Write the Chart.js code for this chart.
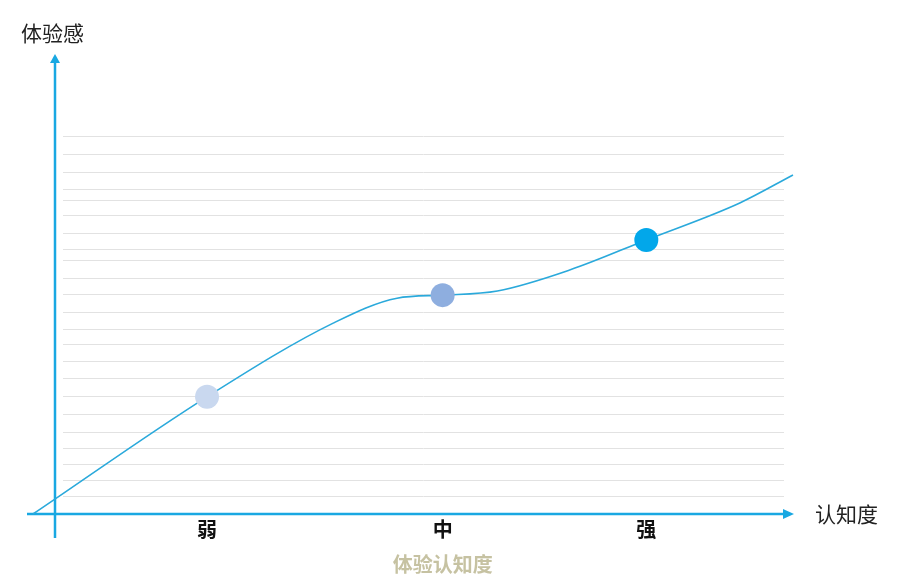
<!DOCTYPE html>
<html>
<head>
<meta charset="utf-8">
<script src="https://cdn.jsdelivr.net/npm/chart.js@4"></script>
<style>
  html, body { margin: 0; padding: 0; background: #fff; }
  #wrap { width: 900px; height: 588px; position: relative; }
</style>
</head>
<body>
<div id="wrap"><canvas id="chart"></canvas></div>
<script>
// --- 数据 ---
const xLabels = ["弱", "中", "强"];
const markX = [22.9, 53.9, 80.7];
const markY = [31.0, 57.9, 72.5];
const markColors = ["#c9d8ef", "#8eaedf", "#02a7ea"];

// 曲线 (从图上读出来的点)
const curveX = [0, 22.9, 39.5, 47.9, 53.9, 61.1, 70.7, 80.7, 93.0, 100];
const curveY = [0, 31.0, 50.5, 57.1, 57.9, 59.0, 64.6, 72.5, 82.3, 89.7];

// 背景横线的位置
const gridValues = [100, 95.2, 90.5, 86.0, 83.1, 79.1, 74.3, 70.1, 67.2, 62.4, 58.2, 53.4,
                    48.9, 45.0, 40.5, 36.0, 31.2, 26.5, 21.7, 17.5, 13.2, 9.0, 4.8];

const axisTitleX = "认知度";
const axisTitleY = "体验感";
const chartTitle = "体验认知度";

// --- 横线, 坐标轴箭头和文字 ---
const axisPlugin = {
  id: "axisArrows",
  beforeDatasetsDraw(chart) {
    const { ctx, chartArea: a, scales: { y } } = chart;
    const blue = "#19a8e2";
    ctx.save();

    // 背景横线
    ctx.strokeStyle = "#e2e2e2";
    ctx.lineWidth = 1;
    gridValues.forEach(v => {
      const py = Math.round(y.getPixelForValue(v)) + 0.5;
      ctx.beginPath();
      ctx.moveTo(a.left + 30, py);
      ctx.lineTo(a.right - 9, py);
      ctx.stroke();
    });

    ctx.strokeStyle = blue;
    ctx.fillStyle = blue;
    ctx.lineWidth = 2.5;

    // y 轴
    const x0 = a.left + 22;
    ctx.beginPath();
    ctx.moveTo(x0, a.bottom + 24);
    ctx.lineTo(x0, 60);
    ctx.stroke();
    ctx.beginPath();
    ctx.moveTo(x0, 54);
    ctx.lineTo(x0 - 5, 63);
    ctx.lineTo(x0 + 5, 63);
    ctx.closePath();
    ctx.fill();

    // x 轴
    const y0 = a.bottom;
    ctx.beginPath();
    ctx.moveTo(a.left - 6, y0);
    ctx.lineTo(a.right - 7, y0);
    ctx.stroke();
    ctx.beginPath();
    ctx.moveTo(a.right + 1, y0);
    ctx.lineTo(a.right - 10, y0 - 5);
    ctx.lineTo(a.right - 10, y0 + 5);
    ctx.closePath();
    ctx.fill();
    ctx.restore();
  },
  afterDraw(chart) {
    const { ctx, chartArea: a, scales: { x } } = chart;
    ctx.save();
    ctx.textBaseline = "middle";

    ctx.font = "21px 'Noto Sans CJK SC'";
    ctx.fillStyle = "#222";
    ctx.textAlign = "left";
    ctx.fillText(axisTitleY, 21, 33);
    ctx.fillText(axisTitleX, 815, a.bottom);

    ctx.font = "bold 20px 'Noto Sans CJK SC'";
    ctx.fillStyle = "#111";
    ctx.textAlign = "center";
    xLabels.forEach((lab, i) => {
      ctx.fillText(lab, x.getPixelForValue(markX[i]), a.bottom + 15);
    });

    ctx.fillStyle = "#c6c2a2";
    ctx.fillText(chartTitle, x.getPixelForValue(markX[1]), a.bottom + 50);
    ctx.restore();
  }
};

new Chart(document.querySelector("#chart"), {
  type: "line",
  data: {
    datasets: [
      {
        data: markX.map((v, i) => ({ x: v, y: markY[i] })),
        showLine: false,
        pointRadius: 12,
        pointBackgroundColor: markColors,
        pointBorderWidth: 0,
        clip: false,
      },
      {
        data: curveX.map((v, i) => ({ x: v, y: curveY[i] })),
        borderColor: "#2aa9db",
        borderWidth: 1.6,
        pointRadius: 0,
        cubicInterpolationMode: "monotone",
        clip: false,
      },
    ],
  },
  options: {
    responsive: true,
    maintainAspectRatio: false,
    animation: false,
    devicePixelRatio: 1,
    layout: { padding: { top: 136, left: 33, right: 107, bottom: 74 } },
    plugins: { legend: { display: false }, tooltip: { enabled: false } },
    scales: {
      x: { type: "linear", min: 0, max: 100, display: false },
      y: { type: "linear", min: 0, max: 100, display: false },
    },
  },
  plugins: [axisPlugin],
});
</script>
</body>
</html>
